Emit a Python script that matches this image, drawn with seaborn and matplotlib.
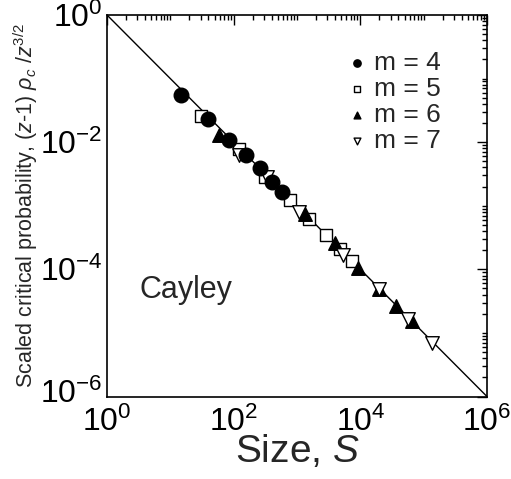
import numpy as np
import pandas as pd
import matplotlib
matplotlib.use("Agg")
import matplotlib.pyplot as plt
import matplotlib.transforms as mtransforms
import seaborn as sns
from matplotlib.ticker import LogLocator, FixedLocator, NullFormatter

sns.set_style("white")
plt.rcParams["font.family"] = ["Liberation Sans", "DejaVu Sans"]
plt.rcParams["mathtext.fontset"] = "custom"
plt.rcParams["mathtext.rm"] = "Liberation Sans"
plt.rcParams["mathtext.it"] = "Liberation Sans:italic"
plt.rcParams["mathtext.sf"] = "Liberation Sans"

# Cluster size S and scaled critical probability for each m
S_m4 = [14.5, 39.6, 84.9, 155.6, 258.8, 396, 582]
P_m4 = [0.0550, 0.02275, 0.01074, 0.00624, 0.0039, 0.00237, 0.00165]

S_m5 = [30.1, 122, 316, 778, 1552, 2844, 4732, 7396]
P_m5 = [0.02564, 0.00767, 0.00288, 0.00122, 6.28e-4, 3.52e-4, 2.12e-4, 1.34e-4]

S_m6 = [59.0, 1352, 3945, 9268, 19500, 37070, 66370]
P_m6 = [0.01274, 7.48e-4, 2.59e-4, 1.057e-4, 4.97e-5, 2.66e-5, 1.52e-5]

S_m7 = [122, 330, 1094, 5370, 19500, 56490, 137100]
P_m7 = [0.00624, 0.00281, 7.98e-4, 1.66e-4, 4.97e-5, 1.675e-5, 7.03e-6]

# Reference power law 1/S
S_ref = np.array([1e0, 1e6])
P_ref = 1.0 / S_ref

x_ticks = [1e0, 1e2, 1e4, 1e6]
x_ticklabels = [r"$\mathregular{10^{0}}$", r"$\mathregular{10^{2}}$",
                r"$\mathregular{10^{4}}$", r"$\mathregular{10^{6}}$"]
y_ticks = [1e-6, 1e-4, 1e-2, 1e0]
y_ticklabels = [r"$\mathregular{10^{-6}}$", r"$\mathregular{10^{-4}}$",
                r"$\mathregular{10^{-2}}$", r"$\mathregular{10^{0}}$"]

fig = plt.figure(figsize=(5.11, 4.79), dpi=100)
ax = fig.add_axes([0.2094, 0.1722, 0.7436, 0.7965])

sns.lineplot(x=S_ref, y=P_ref, ax=ax, color="black", linewidth=1.0, zorder=1)

series = [
    ("m = 5", S_m5, P_m5, "s", "white", 80, 2),
    ("m = 6", S_m6, P_m6, "^", "black", 95, 3),
    ("m = 7", S_m7, P_m7, "v", "white", 95, 4),
    ("m = 4", S_m4, P_m4, "o", "black", 110, 5),
]
handles = {}
for label, xs, ys, mk, fc, size, z in series:
    df = pd.DataFrame({"S": xs, "P": ys})
    sns.scatterplot(data=df, x="S", y="P", ax=ax, marker=mk, s=size,
                    facecolor=fc, edgecolor="black", linewidth=1.0,
                    zorder=z, label=label, legend=False)
    handles[label] = ax.collections[-1]

ax.set_xscale("log")
ax.set_yscale("log")
ax.set_xlim(1e0, 1e6)
ax.set_ylim(1e-6, 1e0)

ax.xaxis.set_major_locator(FixedLocator(x_ticks))
ax.yaxis.set_major_locator(FixedLocator(y_ticks))
ax.xaxis.set_minor_locator(LogLocator(base=10, subs=np.arange(1, 10), numticks=20))
ax.yaxis.set_minor_locator(LogLocator(base=10, subs=np.arange(1, 10), numticks=20))
ax.xaxis.set_minor_formatter(NullFormatter())
ax.yaxis.set_minor_formatter(NullFormatter())
ax.set_xticklabels(x_ticklabels)
ax.set_yticklabels(y_ticklabels)

ax.tick_params(which="both", direction="in", top=True, right=True,
               colors="black", width=1.0)
ax.tick_params(which="major", length=7.5, labelsize=23)
ax.tick_params(axis="x", which="major", pad=7)
ax.tick_params(axis="y", which="major", pad=3)
ax.tick_params(which="minor", length=3.5)
for sp in ax.spines.values():
    sp.set_color("black")
    sp.set_linewidth(1.2)

# lift the lowest y tick label so the corner labels stay apart
lift = mtransforms.ScaledTranslation(0, 4 / 72, fig.dpi_scale_trans)
bottom_lbl = ax.get_yticklabels()[0]
bottom_lbl.set_transform(bottom_lbl.get_transform() + lift)

ax.set_xlabel(r"Size, $S$", fontsize=28, labelpad=-3)
ax.set_ylabel(r"Scaled critical probability, $(z$-$1)\ \rho_c\ /z^{3/2}$",
              fontsize=15.5, labelpad=0)

ax.text(0.085, 0.28, "Cayley", transform=ax.transAxes, fontsize=22,
        va="center", ha="left")

order = ["m = 4", "m = 5", "m = 6", "m = 7"]
ax.legend([handles[k] for k in order], order, loc="upper left",
          bbox_to_anchor=(0.624, 0.905), frameon=False, fontsize=19,
          markerscale=0.5, handletextpad=0.15, labelspacing=0.07,
          handlelength=1.0, borderpad=0.0, borderaxespad=0.0)

fig.savefig("out.png", dpi=100)
